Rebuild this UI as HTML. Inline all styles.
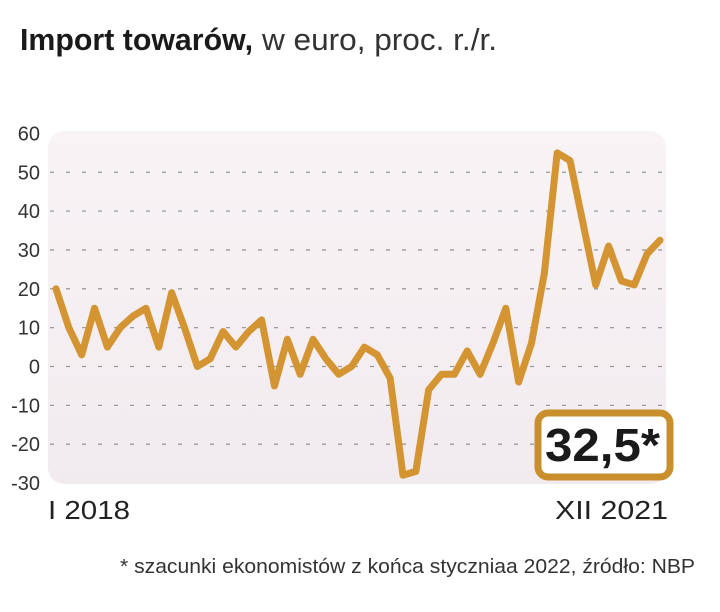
<!DOCTYPE html>
<html><head><meta charset="utf-8"><style>
body{margin:0;background:#fff;width:720px;height:612px;overflow:hidden;font-family:"Liberation Sans",sans-serif;}
</style></head><body>
<svg width="720" height="612" style="position:absolute;left:0;top:0">
<defs><linearGradient id="bg" x1="0" y1="0" x2="0" y2="1"><stop offset="0" stop-color="#f8f3f5"/><stop offset="1" stop-color="#f1ebef"/></linearGradient></defs>
<text x="20" y="50" font-size="31" fill="#1a1a1a" font-weight="bold" textLength="233" lengthAdjust="spacingAndGlyphs">Import towarów,</text>
<text x="262" y="50" font-size="31" fill="#333" textLength="235" lengthAdjust="spacingAndGlyphs">w euro, proc. r./r.</text>
<rect x="48" y="131" width="618" height="353" rx="16" fill="url(#bg)"/>
<g id="grid"></g><g id="ylab"></g>
<polyline id="line" fill="none" stroke="#d39431" stroke-width="7" stroke-linejoin="round" stroke-linecap="round"/>
<text x="48" y="519" font-size="26" fill="#222" textLength="82" lengthAdjust="spacingAndGlyphs">I 2018</text>
<text x="555" y="519" font-size="26" fill="#222" textLength="113" lengthAdjust="spacingAndGlyphs">XII 2021</text>
<g>
<rect x="538" y="413" width="132" height="64" rx="10" fill="#fff" stroke="#c98f2c" stroke-width="7"/>
<text x="545" y="461" font-size="46" font-weight="bold" fill="#1a1a1a" textLength="115" lengthAdjust="spacingAndGlyphs">32,5*</text>
</g>
<text x="120" y="573" font-size="20" fill="#333" textLength="575" lengthAdjust="spacingAndGlyphs">* szacunki ekonomistów z końca styczniaa 2022, źródło: NBP</text>
</svg>
<script>
const yTicks=[60,50,40,30,20,10,0,-10,-20,-30];
const values=[20,10,3,15,5,10,13,15,5,19,10,0,2,9,5,9,12,-5,7,-2,7,2,-2,0,5,3,-3,-28,-27,-6,-2,-2,4,-2,6,15,-4,6,24,55,53,37,21,31,22,21,29,32.5];
const NS='http://www.w3.org/2000/svg';
const y=v=>366.5-v*3.885;
const x=i=>56+i*(660-56)/(values.length-1);
const g=document.getElementById('grid'),yl=document.getElementById('ylab');
yTicks.forEach(t=>{
 if(t<60&&t>-30){const l=document.createElementNS(NS,'line');
 l.setAttribute('x1',50);l.setAttribute('x2',664);l.setAttribute('y1',y(t));l.setAttribute('y2',y(t));
 l.setAttribute('stroke','#9a9a9a');l.setAttribute('stroke-dasharray','4 12');l.setAttribute('stroke-width','1.3');
 
 
 g.appendChild(l);}
 const tx=document.createElementNS(NS,'text');
 tx.setAttribute('x',40);tx.setAttribute('y',y(t)+7);tx.setAttribute('text-anchor','end');
 tx.setAttribute('font-size','20');tx.setAttribute('fill','#333');tx.textContent=t;
 
 
 yl.appendChild(tx);
});
document.getElementById('line').setAttribute('points',values.map((v,i)=>x(i)+','+y(v)).join(' '));
</script>
</body></html>
